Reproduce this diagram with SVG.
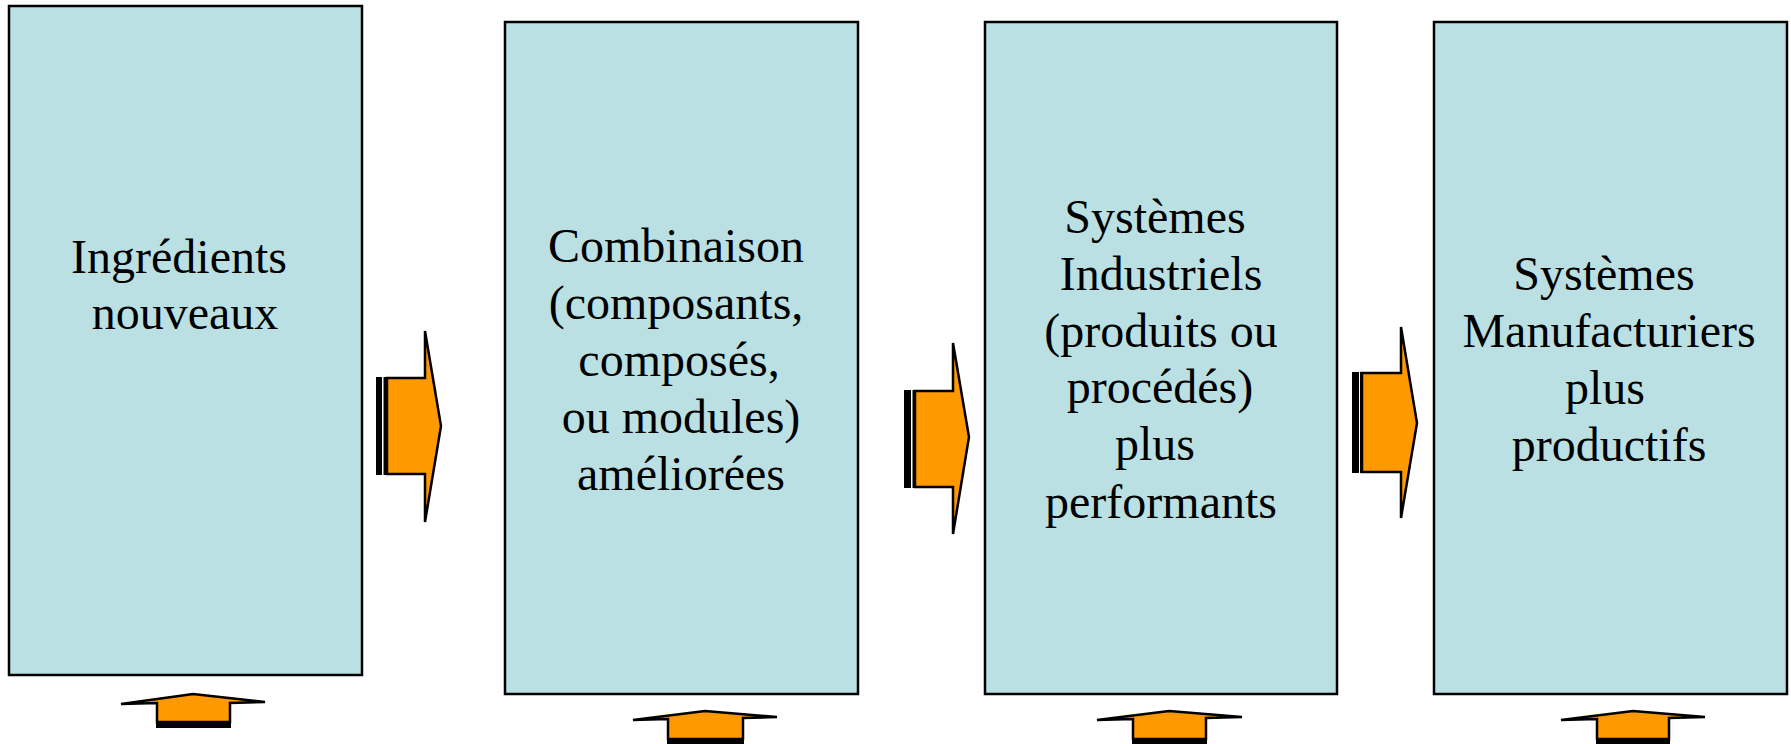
<svg xmlns="http://www.w3.org/2000/svg" width="1791" height="744" viewBox="0 0 1791 744">
<style>
.box{fill:#BBE0E3;stroke:#000;stroke-width:2.5}
.lbl{font-family:"Liberation Serif","Times New Roman",serif;font-size:48px;fill:#000;text-anchor:middle}
.arr{fill:#FF9900;stroke:#000;stroke-width:2.5;stroke-linejoin:miter}
.bar{fill:#000}
</style>
<rect width="1791" height="744" fill="#fff"/>
<g id="node1">
<rect class="box" x="9" y="6" width="353" height="669"/>
<text class="lbl"><tspan x="179" y="273">Ingrédients</tspan><tspan x="185" y="329">nouveaux</tspan></text>
</g>
<g id="node2">
<rect class="box" x="505" y="22" width="353" height="672"/>
<text class="lbl"><tspan x="676" y="262">Combinaison</tspan><tspan x="676" y="319">(composants,</tspan><tspan x="679" y="376">composés,</tspan><tspan x="681" y="433">ou modules)</tspan><tspan x="681" y="490">améliorées</tspan></text>
</g>
<g id="node3">
<rect class="box" x="985" y="22" width="352" height="672"/>
<text class="lbl"><tspan x="1155" y="233">Systèmes</tspan><tspan x="1161" y="290">Industriels</tspan><tspan x="1161" y="347">(produits ou</tspan><tspan x="1160" y="403">procédés)</tspan><tspan x="1155" y="460">plus</tspan><tspan x="1161" y="518">performants</tspan></text>
</g>
<g id="node4">
<rect class="box" x="1434" y="22" width="353" height="672"/>
<text class="lbl"><tspan x="1604" y="290">Systèmes</tspan><tspan x="1609" y="347">Manufacturiers</tspan><tspan x="1605" y="404">plus</tspan><tspan x="1609" y="461">productifs</tspan></text>
</g>
<g id="connectors">
<g id="right1">
<rect class="bar" x="376" y="377" width="6" height="98"/>
<rect class="bar" x="383.5" y="377" width="4" height="98"/>
<polygon class="arr" points="387,378 425,378 425,331 441,426 425,522 425,474 387,474"/>
</g>
<g id="right2">
<rect class="bar" x="904" y="390" width="7" height="98"/>
<rect class="bar" x="912.5" y="390" width="3.5" height="98"/>
<polygon class="arr" points="915,391 953,391 953,343 969,437 953,534 953,487 915,487"/>
</g>
<g id="right3">
<rect class="bar" x="1352" y="372" width="7" height="101"/>
<rect class="bar" x="1360" y="372" width="3.5" height="101"/>
<polygon class="arr" points="1362,373 1401,373 1401,327 1417,423 1401,518 1401,472 1362,472"/>
</g>
<g id="up1">
<polygon class="arr" points="157,722 157,703 121,704 193,694 265,702 230,703 230,722"/>
<rect class="bar" x="156" y="721" width="75" height="7"/>
</g>
<g id="up2">
<polygon class="arr" points="668,739 668,719 633,720 705,711 777,717 743,718 743,739"/>
<rect class="bar" x="667" y="738" width="77" height="7"/>
</g>
<g id="up3">
<polygon class="arr" points="1133,739 1133,719 1097,720 1169,711 1242,717 1206,718 1206,739"/>
<rect class="bar" x="1132" y="738" width="75" height="7"/>
</g>
<g id="up4">
<polygon class="arr" points="1597,739 1597,719 1561,720 1633,711 1705,717 1669,718 1669,739"/>
<rect class="bar" x="1596" y="738" width="74" height="7"/>
</g>
</g>
</svg>
